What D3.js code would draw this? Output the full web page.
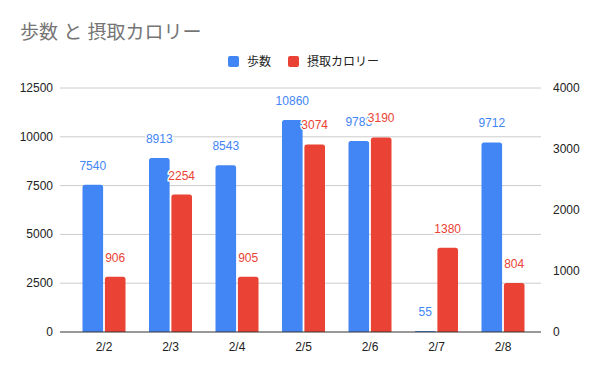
<!DOCTYPE html>
<html>
<head>
<meta charset="utf-8">
<script src="https://cdn.jsdelivr.net/npm/d3@7"></script>
<style>
  body { margin: 0; background: #fff; }
  svg { display: block; font-family: Arial, "Liberation Sans", "Noto Sans CJK JP", sans-serif; }
</style>
</head>
<body>
<div id="chart"></div>
<script>
// --- DATA ---
const dates = ['2/2', '2/3', '2/4', '2/5', '2/6', '2/7', '2/8'];
const steps = [7540, 8913, 8543, 10860, 9783, 55, 9712];
const calories = [906, 2254, 905, 3074, 3190, 1380, 804];
const leftTicks = [0, 2500, 5000, 7500, 10000, 12500];
const rightTicks = [0, 1000, 2000, 3000, 4000];
const seriesNames = ['歩数', '摂取カロリー'];

// --- SETUP ---
const width = 600, height = 371;
const plot = {left: 60, right: 541, top: 88, bottom: 332};
const BLUE = '#4285f4', RED = '#ea4335';

const svg = d3.select('#chart').append('svg')
    .attr('width', width)
    .attr('height', height);

// scales
const xCenter = d3.scalePoint().domain(dates).range([104, 503]);
const xInner = d3.scaleBand().domain(seriesNames).range([-21.5, 21.5]).paddingInner(0.08);
const yLeft = d3.scaleLinear().domain([0, 12500]).range([plot.bottom, plot.top]);
const yRight = d3.scaleLinear().domain([0, 4000]).range([plot.bottom, plot.top]);

// title
svg.append('text')
    .attr('x', 20).attr('y', 39)
    .attr('fill', '#757575')
    .style('font-size', '19px')
    .text('歩数 と 摂取カロリー');

// legend
const legend = svg.append('g');
const legendItems = [
    {name: seriesNames[0], color: BLUE, x: 228},
    {name: seriesNames[1], color: RED, x: 288}
];
legendItems.forEach(d => {
    legend.append('rect')
        .attr('x', d.x).attr('y', 56)
        .attr('width', 11).attr('height', 11)
        .attr('rx', 2)
        .attr('fill', d.color);
    legend.append('text')
        .attr('x', d.x + 19).attr('y', 66)
        .attr('fill', '#222')
        .style('font-size', '12px')
        .text(d.name);
});

// gridlines
svg.append('g')
    .selectAll('line')
    .data(leftTicks.slice(1))
    .join('line')
    .attr('x1', plot.left).attr('x2', plot.right)
    .attr('y1', d => yLeft(d)).attr('y2', d => yLeft(d))
    .attr('stroke', '#cccccc');

// left axis labels
svg.append('g')
    .selectAll('text')
    .data(leftTicks)
    .join('text')
    .attr('x', 53)
    .attr('y', d => yLeft(d) + 4)
    .attr('text-anchor', 'end')
    .attr('fill', '#222')
    .style('font-size', '12px')
    .text(d => d);

// right axis labels
svg.append('g')
    .selectAll('text')
    .data(rightTicks)
    .join('text')
    .attr('x', 553)
    .attr('y', d => yRight(d) + 4)
    .attr('fill', '#222')
    .style('font-size', '12px')
    .text(d => d);

// bars with rounded top corners
function barPath(x, y0, w, y1) {
    const h = y0 - y1;
    const r = Math.min(2.5, h / 2, w / 2);
    return `M${x},${y0}V${y1 + r}Q${x},${y1} ${x + r},${y1}H${x + w - r}Q${x + w},${y1} ${x + w},${y1 + r}V${y0}Z`;
}

const bw = xInner.bandwidth();
svg.append('g')
    .selectAll('path')
    .data(steps)
    .join('path')
    .attr('fill', BLUE)
    .attr('d', (d, i) => barPath(xCenter(dates[i]) + xInner(seriesNames[0]), yLeft(0), bw, yLeft(d)));

svg.append('g')
    .selectAll('path')
    .data(calories)
    .join('path')
    .attr('fill', RED)
    .attr('d', (d, i) => barPath(xCenter(dates[i]) + xInner(seriesNames[1]), yRight(0), bw, yRight(d)));

// baseline
svg.append('line')
    .attr('x1', plot.left).attr('x2', plot.right)
    .attr('y1', plot.bottom).attr('y2', plot.bottom)
    .attr('stroke', '#333');

// category labels
svg.append('g')
    .selectAll('text')
    .data(dates)
    .join('text')
    .attr('x', d => xCenter(d))
    .attr('y', 351)
    .attr('text-anchor', 'middle')
    .attr('fill', '#222')
    .style('font-size', '12px')
    .text(d => d);

// value labels (white halo, red drawn over blue)
function valueLabels(data, scale, key, color) {
    svg.append('g')
        .selectAll('text')
        .data(data)
        .join('text')
        .attr('x', (d, i) => xCenter(dates[i]) + xInner(key) + bw / 2)
        .attr('y', d => scale(d) - 15)
        .attr('text-anchor', 'middle')
        .attr('fill', color)
        .attr('stroke', '#fff')
        .attr('stroke-width', 3)
        .attr('paint-order', 'stroke')
        .style('font-size', '12px')
        .text(d => d);
}
valueLabels(steps, yLeft, seriesNames[0], BLUE);
valueLabels(calories, yRight, seriesNames[1], RED);
</script>
</body>
</html>
